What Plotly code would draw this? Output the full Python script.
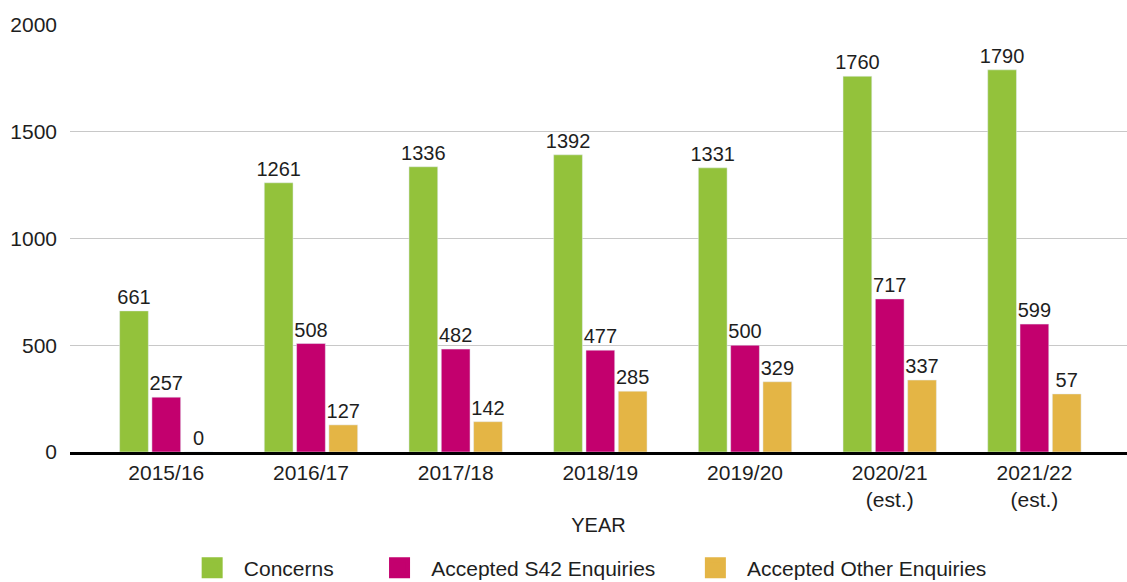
import plotly.graph_objects as go

years = ["2015/16", "2016/17", "2017/18", "2018/19", "2019/20", "2020/21<br>(est.)", "2021/22<br>(est.)"]
concerns = [661, 1261, 1336, 1392, 1331, 1760, 1790]
s42 = [257, 508, 482, 477, 500, 717, 599]
other = [0, 127, 142, 285, 329, 337, 272]
other_labels = ["0", "127", "142", "285", "329", "337", "57"]

NB = "\u00a0"
series = [
    ("Concerns", NB * 2 + "Concerns" + NB * 7, concerns, [str(v) for v in concerns], "#93C23B"),
    ("Accepted S42 Enquiries", NB * 2 + "Accepted S42 Enquiries" + NB * 6, s42, [str(v) for v in s42], "#C3006E"),
    ("Accepted Other Enquiries", NB * 2 + "Accepted Other Enquiries", other, other_labels, "#E4B545"),
]

FONT = "Liberation Sans"
TXT = "#1e1e1e"
fig = go.Figure()
for name, legname, vals, labels, color in series:
    fig.add_trace(go.Bar(
        x=years, y=vals, name=name, marker_color=color,
        text=labels, textposition="outside", cliponaxis=False,
        textfont=dict(size=20, color=TXT, family=FONT),
        showlegend=False,
    ))
for name, legname, vals, labels, color in series:
    fig.add_trace(go.Scatter(
        x=[None], y=[None], mode="markers", name=legname,
        marker=dict(symbol="square", size=16, color=color,
                    line=dict(color=color, width=5)),
        showlegend=True,
    ))

fig.update_layout(
    width=1127, height=582,
    margin=dict(l=70, r=0, t=25, b=130, autoexpand=False),
    paper_bgcolor="white", plot_bgcolor="white",
    barmode="group", bargap=0.33, bargroupgap=0.11,
    uniformtext=dict(minsize=20, mode="show"),
    font=dict(family=FONT, size=21, color=TXT),
    xaxis=dict(
        range=[-0.6655, 6.64], showgrid=False,
        showline=True, linecolor="black", linewidth=2.5,
        ticks="", tickfont=dict(size=21),
        title=dict(text="YEAR", font=dict(size=20), standoff=8),
    ),
    yaxis=dict(
        range=[0, 2000], tickvals=[0, 500, 1000, 1500, 2000],
        showgrid=True, gridcolor="#c8c8c8", gridwidth=1,
        zeroline=False, ticks="", ticklabelstandoff=12,
        tickfont=dict(size=21),
    ),
    legend=dict(
        orientation="h", x=0.494, xanchor="center", y=-0.2717, yanchor="middle",
        font=dict(size=21),
    ),
)

fig.write_html(
    "out.html",
    config={"displayModeBar": False},
    post_script="document.body.style.margin='0';document.body.style.overflow='hidden';",
)
